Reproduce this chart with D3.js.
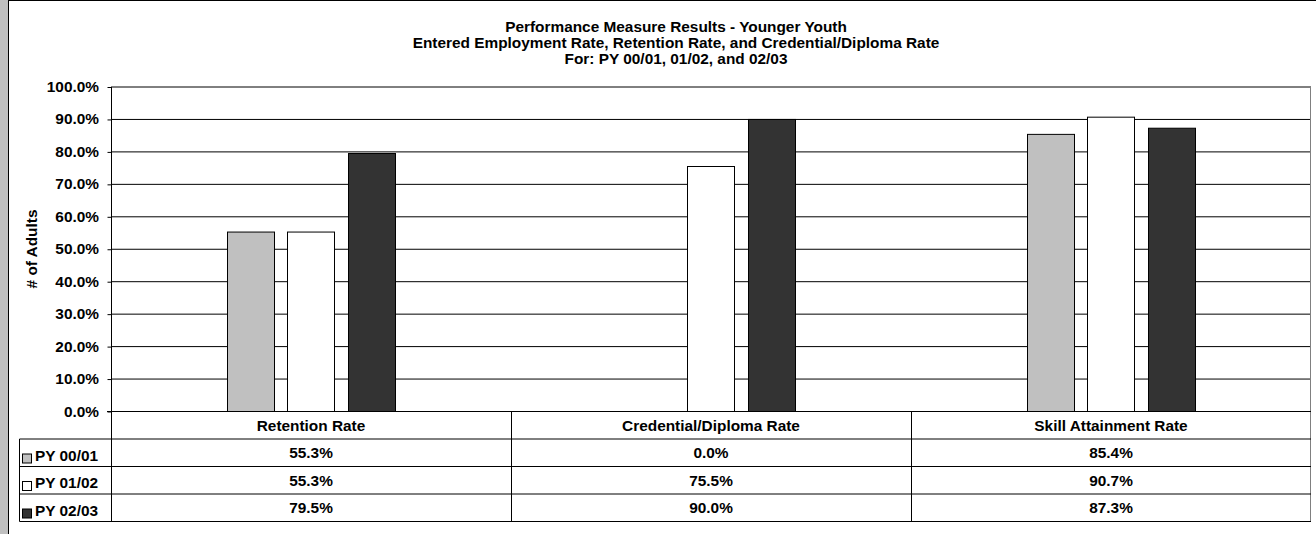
<!DOCTYPE html>
<html>
<head>
<meta charset="utf-8">
<script src="https://cdn.jsdelivr.net/npm/d3@7"></script>
<style>
  body { margin: 0; background: #fff; }
  text { font-family: "Liberation Sans", Arial, sans-serif; font-weight: bold; fill: #000; }
</style>
</head>
<body>
<div id="chart"></div>
<script>
// chart data
var categories = ["Retention Rate", "Credential/Diploma Rate", "Skill Attainment Rate"];
var seriesNames = ["PY 00/01", "PY 01/02", "PY 02/03"];
var seriesColors = ["#c0c0c0", "#ffffff", "#333333"];
var py0001 = [55.3, 0.0, 85.4];
var py0102 = [55.3, 75.5, 90.7];
var py0203 = [79.5, 90.0, 87.3];
var yTicks = [0, 10, 20, 30, 40, 50, 60, 70, 80, 90, 100];
var titleLines = [
  "Performance Measure Results - Younger Youth",
  "Entered Employment Rate, Retention Rate, and Credential/Diploma Rate",
  "For: PY 00/01, 01/02, and 02/03"
];
var yLabel = "# of Adults";

var seriesValues = [py0001, py0102, py0203];

var W = 1316, H = 534;
var plot = {left: 111, right: 1311, top: 87, bottom: 411.5};
var rowTops = [411.5, 439, 466.5, 494, 521.5]; // header row + 3 series rows
var legendLeft = 19.5;
var sx = 1.1; // text is a little wider than plain Arial

var svg = d3.select("#chart").append("svg")
  .attr("width", W)
  .attr("height", H);

// outer frame: grey strip on the left, black lines top & left
svg.append("rect").attr("x", 0).attr("y", 0).attr("width", 8).attr("height", H).style("fill", "#c0c0c0");
svg.append("line").attr("x1", 8.5).attr("x2", 8.5).attr("y1", 0).attr("y2", H).style("stroke", "#000");
svg.append("line").attr("x1", 8).attr("x2", W).attr("y1", 0.5).attr("y2", 0.5).style("stroke", "#000");

// text helper, slightly stretched horizontally
function label(g, x, y, s, anchor, size) {
  return g.append("text")
    .attr("transform", "translate(" + x + "," + y + ") scale(" + sx + ",1)")
    .attr("text-anchor", anchor || "middle")
    .style("font-size", (size || 14) + "px")
    .text(s);
}

// title
titleLines.forEach(function (t, i) {
  label(svg, 676, 32 + i * 16, t, "middle", 14);
});

// scales
var x0 = d3.scaleBand()
  .domain(categories)
  .range([plot.left, plot.right])
  .padding(0);

var x1 = d3.scaleBand()
  .domain(seriesNames)
  .range([x0.bandwidth() / 2 - 84, x0.bandwidth() / 2 + 84])
  .paddingInner(0.223)
  .paddingOuter(0);

var y = d3.scaleLinear()
  .domain([0, 100])
  .range([plot.bottom, plot.top]);

// gridlines
svg.append("g").selectAll("line")
  .data(yTicks.filter(function (d) { return d > 0; }))
  .enter().append("line")
  .attr("x1", plot.left)
  .attr("x2", plot.right)
  .attr("y1", function (d) { return y(d); })
  .attr("y2", function (d) { return y(d); })
  .style("stroke", "#000")
  .style("stroke-width", 1);

// right edge of plot area
svg.append("line")
  .attr("x1", plot.right - 0.5).attr("x2", plot.right - 0.5)
  .attr("y1", plot.top).attr("y2", rowTops[4])
  .style("stroke", "#808080");

// bars
var groups = svg.append("g").selectAll("g")
  .data(categories)
  .enter().append("g")
  .attr("transform", function (d) { return "translate(" + x0(d) + ",0)"; });

groups.selectAll("rect")
  .data(function (d, ci) {
    return seriesNames.map(function (s, si) {
      return {series: s, value: seriesValues[si][ci], color: seriesColors[si]};
    });
  })
  .enter().append("rect")
  .filter(function (d) { return d.value > 0; })
  .attr("x", function (d) { return Math.round(x1(d.series)) + 0.5; })
  .attr("y", function (d) { return y(d.value); })
  .attr("width", Math.round(x1.bandwidth()))
  .attr("height", function (d) { return y(0) - y(d.value); })
  .style("fill", function (d) { return d.color; })
  .style("stroke", "#000")
  .style("stroke-width", 1);

// y axis
var yAxis = d3.axisLeft(y)
  .tickValues(yTicks)
  .tickSize(4)
  .tickFormat(function (d) { return d.toFixed(1) + "%"; });

var ax = svg.append("g")
  .attr("transform", "translate(" + (plot.left + 0.5) + ",0)")
  .call(yAxis);
ax.select(".domain").remove();
ax.selectAll(".tick line").style("stroke", "#000");
ax.selectAll(".tick text").remove();
yTicks.forEach(function (d) {
  label(svg, 99, y(d) + 5, d.toFixed(1) + "%", "end", 14);
});

// axis line, extends down through the data table
svg.append("line")
  .attr("x1", plot.left + 0.5).attr("x2", plot.left + 0.5)
  .attr("y1", plot.top).attr("y2", rowTops[4])
  .style("stroke", "#000");

// y label
svg.append("text")
  .attr("transform", "translate(37,249) rotate(-90) scale(" + sx + ",1)")
  .attr("text-anchor", "middle")
  .style("font-size", "14px")
  .text(yLabel);

// data table
var table = svg.append("g");

rowTops.forEach(function (ry, i) {
  table.append("line")
    .attr("x1", i === 0 ? plot.left - 4 : legendLeft)
    .attr("x2", plot.right)
    .attr("y1", ry).attr("y2", ry)
    .style("stroke", "#000");
});

table.append("line")
  .attr("x1", legendLeft).attr("x2", legendLeft)
  .attr("y1", rowTops[1]).attr("y2", rowTops[4])
  .style("stroke", "#000");

categories.forEach(function (c, i) {
  if (i > 0) {
    table.append("line")
      .attr("x1", x0(c) + 0.5).attr("x2", x0(c) + 0.5)
      .attr("y1", rowTops[0]).attr("y2", rowTops[4])
      .style("stroke", "#000");
  }
  label(table, x0(c) + x0.bandwidth() / 2, rowTops[0] + 19, c, "middle", 14);
});

seriesNames.forEach(function (s, si) {
  var ry = rowTops[si + 1];
  table.append("rect")
    .attr("x", 22.5).attr("y", ry + 15)
    .attr("width", 9).attr("height", 9)
    .style("fill", seriesColors[si])
    .style("stroke", "#000");
  label(table, 35, ry + 21.5, s, "start", 14);
  categories.forEach(function (c, ci) {
    label(table, x0(c) + x0.bandwidth() / 2, ry + 19, seriesValues[si][ci].toFixed(1) + "%", "middle", 14);
  });
});
</script>
</body>
</html>
